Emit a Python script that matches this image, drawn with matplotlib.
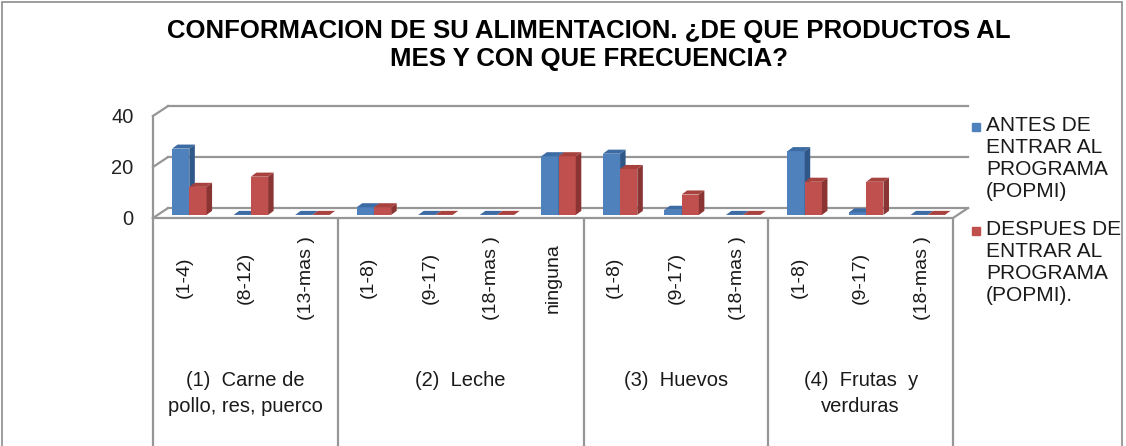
import numpy as np
import matplotlib.pyplot as plt
from matplotlib.patches import Polygon, Rectangle

# datos
frecuencias = ['(1-4)', '(8-12)', '(13-mas )', '(1-8)', '(9-17)', '(18-mas )', 'ninguna',
               '(1-8)', '(9-17)', '(18-mas )', '(1-8)', '(9-17)', '(18-mas )']
antes = [26, 0, 0, 3, 0, 0, 23, 24, 2, 0, 25, 1, 0]
despues = [11, 15, 0, 3, 0, 0, 23, 18, 8, 0, 13, 13, 0]
grupos = ['(1)  Carne de\npollo, res, puerco', '(2)  Leche', '(3)  Huevos', '(4)  Frutas  y\nverduras']
grupo_tam = [3, 4, 3, 3]
series = ['ANTES DE\nENTRAR AL\nPROGRAMA\n(POPMI)', 'DESPUES DE\nENTRAR AL\nPROGRAMA\n(POPMI).']

plt.rcParams['font.family'] = ['Liberation Sans', 'DejaVu Sans']

W, H = 1126, 446
fig = plt.figure(figsize=(W / 100, H / 100), dpi=100)

# profundidad del efecto 3D (en unidades de datos)
DX, DY = 0.244, 3.9
n = len(frecuencias)
ax = fig.add_axes([153 / W, (H - 218) / H, 815 / W, 113.5 / H])
ax.set_xlim(-0.5, n - 0.5 + DX)
ax.set_ylim(0, 44.5)
for s in ax.spines.values():
    s.set_visible(False)

grid = '#969696'
# paredes y lineas de division
for v in [0, 20, 40]:
    ax.plot([-0.5 + DX, n - 0.5 + DX], [v + DY, v + DY], color=grid, lw=1.6, clip_on=False, zorder=1)
    ax.plot([-0.5, -0.5 + DX], [v, v + DY], color=grid, lw=1.6, clip_on=False, zorder=1)
ax.plot([-0.5, -0.5], [0, 40], color=grid, lw=1.6, clip_on=False, zorder=1)
ax.plot([-0.5, n - 0.5, n - 0.5 + DX], [0, 0, DY], color=grid, lw=1.6, clip_on=False, zorder=1)

# barras
x = np.arange(n)
w = 0.28
base = 1.2
ddx, ddy = 0.09, 1.6
colores = [('#4F81BD', '#3D6BA3', '#2F5888'), ('#C0504D', '#A8423F', '#8A3533')]
for k, vals in enumerate([antes, despues]):
    x0 = x - 0.19 + k * w
    frente, arriba, lado = colores[k]
    ax.bar(x0, vals, width=w, bottom=base, align='edge', color=frente, zorder=3 + k)
    for xi, v in zip(x0, vals):
        top = base + v
        ax.add_patch(Polygon([(xi, top), (xi + w, top), (xi + w + ddx, top + ddy), (xi + ddx, top + ddy)],
                             closed=True, color=arriba, lw=0, zorder=3 + k))
        ax.add_patch(Polygon([(xi + w, base), (xi + w + ddx, base + ddy), (xi + w + ddx, top + ddy), (xi + w, top)],
                             closed=True, color=lado, lw=0, zorder=3 + k))

ax.set_yticks([0, 20, 40])
ax.set_yticklabels(['0', '20', '40'], fontsize=14.5, color='#222222')
ax.tick_params(axis='y', length=0, pad=14)
ax.set_xticks(x)
ax.set_xticklabels(frecuencias, rotation=90, fontsize=14, va='center', color='#1a1a1a')
ax.tick_params(axis='x', length=0, pad=43)

# eje de categorias en dos niveles
limites = np.concatenate([[0], np.cumsum(grupo_tam)]) - 0.5
ax.vlines(limites, -92, 0, color=grid, lw=1.6, clip_on=False)
for i, g in enumerate(grupos):
    ax.text((limites[i] + limites[i + 1]) / 2, -60, g, ha='center', va='top', fontsize=14.5,
            linespacing=1.45, clip_on=False, color='#1a1a1a')

# leyenda
for k, lab in enumerate(series):
    y_top = [116, 220][k]
    fig.patches.append(Rectangle((972 / W, 1 - (y_top + 15) / H), 8 / W, 8 / H,
                                 transform=fig.transFigure, color=colores[k][0]))
    fig.text(986 / W, 1 - y_top / H, lab, ha='left', va='top', fontsize=15, linespacing=1.2,
             color='#1a1a1a')

fig.text(589 / W, 1 - 45 / H, 'CONFORMACION DE SU ALIMENTACION. ¿DE QUE PRODUCTOS AL\nMES Y CON QUE FRECUENCIA?',
         ha='center', va='center', fontsize=18.5, fontweight='bold', linespacing=1.2)

fig.patches.append(Rectangle((2 / W, -0.1), 1120 / W, 1.095, transform=fig.transFigure,
                             fill=False, edgecolor='#8c8c8c', lw=1.2))

fig.savefig('out.png', dpi=100)
